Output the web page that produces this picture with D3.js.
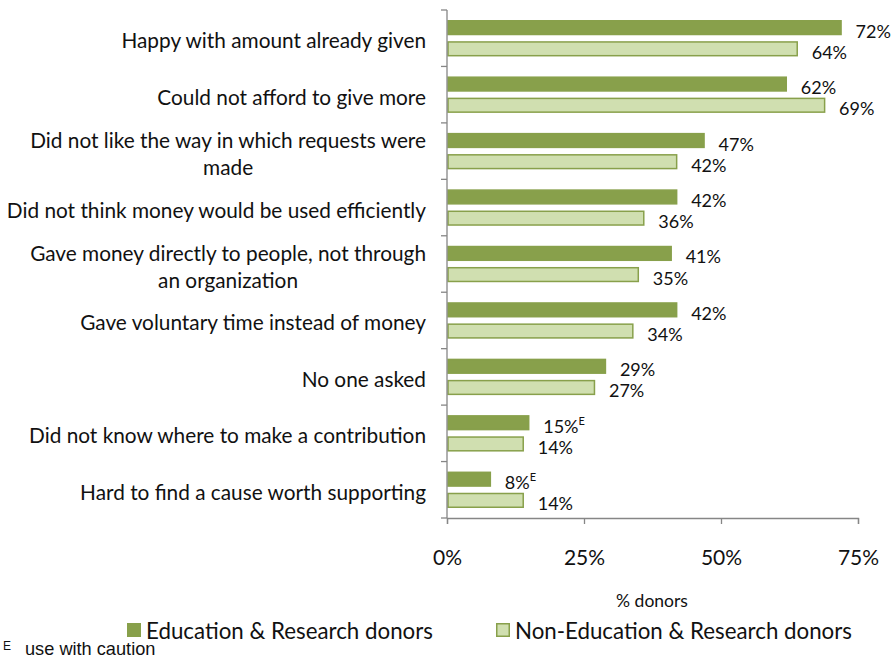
<!DOCTYPE html>
<html>
<head>
<meta charset="utf-8">
<script src="https://cdn.jsdelivr.net/npm/d3@7"></script>
<style>
  html, body { margin: 0; padding: 0; background: #fff; }
  svg { display: block; }
</style>
</head>
<body>
<svg id="chart" width="893" height="658"></svg>
<script>
// Reasons for not giving more, by donor group
const categories = [
  "Happy with amount already given",
  "Could not afford to give more",
  "Did not like the way in which requests were made",
  "Did not think money would be used efficiently",
  "Gave money directly to people, not through an organization",
  "Gave voluntary time instead of money",
  "No one asked",
  "Did not know where to make a contribution",
  "Hard to find a cause worth supporting"
];
const eduValues    = [72, 62, 47, 42, 41, 42, 29, 15, 8];
const nonEduValues = [64, 69, 42, 36, 35, 34, 27, 14, 14];
const eduCaution    = [false, false, false, false, false, false, false, true, true];
const nonEduCaution = [false, false, false, false, false, false, false, false, false];
const seriesNames = ["Education & Research donors", "Non-Education & Research donors"];
const xTicks = [0, 25, 50, 75];
const xTitle = "% donors";
const footnote = "use with caution";

const svg = d3.select("#chart");
const font = "Lato, 'Open Sans', sans-serif";
const plotLeft = 447, plotRight = 858, plotTop = 10, plotBottom = 518;

const x = d3.scaleLinear().domain([0, 75]).range([plotLeft, plotRight]);
const y = d3.scaleBand().domain(categories).range([plotTop, plotBottom]);
const inner = d3.scaleBand().domain([0, 1]).range([10, y.bandwidth() - 10]).paddingInner(0.28);

const colors = [
  { fill: "#88a04b", stroke: "#88a04b" },
  { fill: "#d0dfb0", stroke: "#88a04b" }
];
const series = [
  { values: eduValues, caution: eduCaution },
  { values: nonEduValues, caution: nonEduCaution }
];

// Bars and value labels
series.forEach((s, si) => {
  const g = svg.append("g");
  g.selectAll("rect").data(categories).join("rect")
    .attr("x", x(0) + 1)
    .attr("y", c => y(c) + inner(si) + 0.75)
    .attr("width", (c, i) => x(s.values[i]) - x(0) - 1.5)
    .attr("height", inner.bandwidth() - 1.5)
    .attr("fill", colors[si].fill)
    .attr("stroke", colors[si].stroke)
    .attr("stroke-width", 1.5);

  const t = g.selectAll("text").data(categories).join("text")
    .attr("x", (c, i) => x(s.values[i]) + 14)
    .attr("y", c => y(c) + inner(si) + inner.bandwidth() / 2 + 10)
    .attr("font-family", font)
    .attr("font-size", 18)
    .attr("fill", "#111");
  t.append("tspan").text((c, i) => s.values[i] + "%");
  t.filter((c, i) => s.caution[i]).append("tspan")
    .attr("dy", -8).attr("font-size", 11).text("E");
});

// Left axis with ticks at band boundaries
const axisColor = "#868686";
const ya = svg.append("g");
ya.append("line").attr("x1", plotLeft).attr("x2", plotLeft).attr("y1", plotTop).attr("y2", plotBottom)
  .attr("stroke", axisColor).attr("stroke-width", 1.3);
const bounds = categories.map(c => y(c)).concat([plotBottom]);
ya.selectAll("line.tick").data(bounds).join("line").attr("class", "tick")
  .attr("x1", plotLeft - 6).attr("x2", plotLeft).attr("y1", d => d).attr("y2", d => d)
  .attr("stroke", axisColor).attr("stroke-width", 1.3);

// Bottom axis
const xa = svg.append("g").attr("transform", `translate(0,${plotBottom})`)
  .call(d3.axisBottom(x).tickValues(xTicks).tickSize(6).tickFormat(d => d + "%"));
xa.select(".domain").attr("stroke", axisColor).attr("stroke-width", 1.3);
xa.selectAll(".tick line").attr("stroke", axisColor).attr("stroke-width", 1.3);
xa.selectAll(".tick text").attr("font-family", font).attr("font-size", 21)
  .attr("fill", "#111").attr("dy", 0).attr("y", 47);

// Category labels, wrapped by measured width and centred within a right-aligned block
const labelRight = 426, maxLabelWidth = 420, labelSize = 20.8;
const measurer = svg.append("text").attr("font-family", font).attr("font-size", labelSize)
  .attr("visibility", "hidden");
const measure = s => { measurer.text(s); return measurer.node().getComputedTextLength(); };
const labelLines = c => {
  const words = c.split(" ");
  const lines = [];
  let cur = "";
  words.forEach(w => {
    const test = cur ? cur + " " + w : w;
    if (cur && measure(test) > maxLabelWidth) { lines.push(cur); cur = w; } else cur = test;
  });
  lines.push(cur);
  return lines;
};
categories.forEach(c => {
  const lines = labelLines(c);
  const g = svg.append("g");
  const texts = lines.map((ln, li) => g.append("text")
    .attr("font-family", font).attr("font-size", labelSize).attr("fill", "#111")
    .attr("y", y(c) + y.bandwidth() / 2 + 10 + (li - (lines.length - 1) / 2) * 27)
    .text(ln));
  const maxW = d3.max(texts, t => t.node().getComputedTextLength());
  const cx = labelRight - maxW / 2;
  texts.forEach(t => t.attr("x", cx).attr("text-anchor", "middle"));
});
measurer.remove();

// Axis title
svg.append("text").attr("x", 652).attr("y", 607).attr("text-anchor", "middle")
  .attr("font-family", font).attr("font-size", 17.5).attr("fill", "#111").text(xTitle);

// Legend
const legend = [{ x: 127, i: 0 }, { x: 496, i: 1 }];
legend.forEach(l => {
  svg.append("rect").attr("x", l.x + 0.75).attr("y", 623.75).attr("width", 12.5).attr("height", 12.5)
    .attr("fill", colors[l.i].fill).attr("stroke", colors[l.i].stroke).attr("stroke-width", 1.5);
  svg.append("text").attr("x", l.x + 19).attr("y", 639)
    .attr("font-family", font).attr("font-size", 22.3).attr("fill", "#111").text(seriesNames[l.i]);
});

// Footnote
const fn = svg.append("text").attr("y", 655)
  .attr("font-family", "'Liberation Sans', Arial, sans-serif").attr("font-size", 18.2).attr("fill", "#111");
fn.append("tspan").attr("x", 3).attr("font-size", 12).attr("dy", -5).text("E");
fn.append("tspan").attr("x", 25).attr("dy", 5).text(footnote);
</script>
</body>
</html>
